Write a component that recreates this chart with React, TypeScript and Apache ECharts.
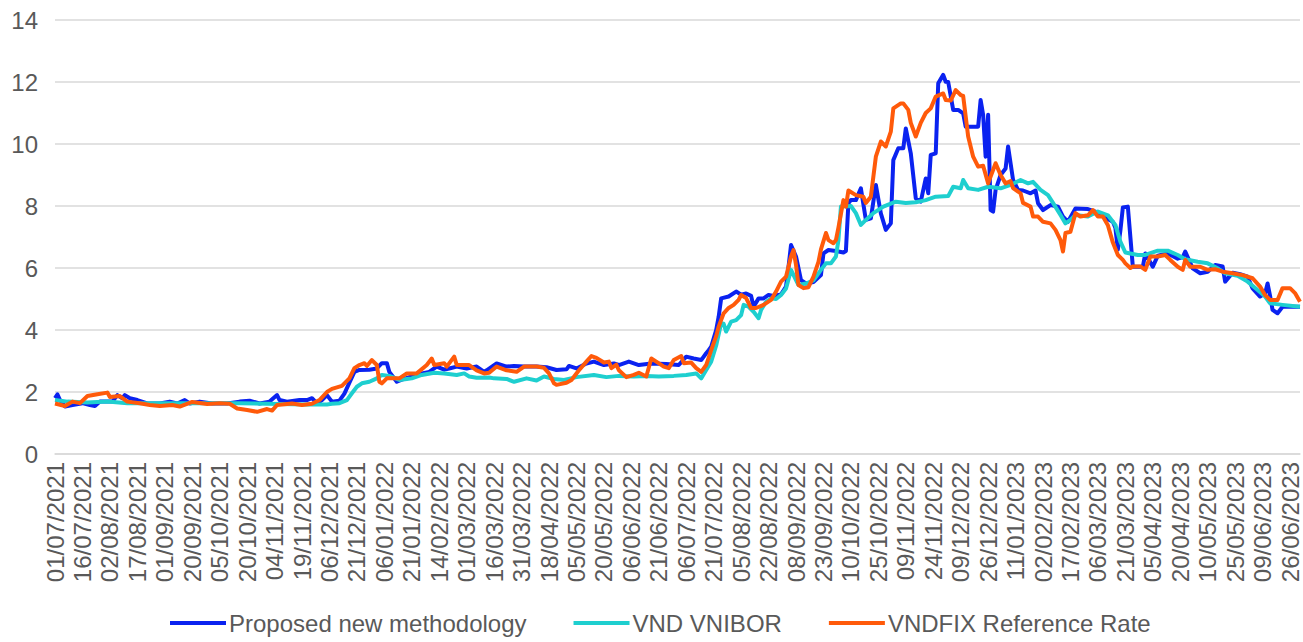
import React, { useEffect, useRef } from "react";
import * as echarts from "echarts";

// Category tick labels (every 11th business day)
const dateLabels = [
  "01/07/2021", "16/07/2021", "02/08/2021", "17/08/2021", "01/09/2021", "20/09/2021",
  "05/10/2021", "20/10/2021", "04/11/2021", "19/11/2021", "06/12/2021", "21/12/2021",
  "06/01/2022", "21/01/2022", "14/02/2022", "01/03/2022", "16/03/2022", "31/03/2022",
  "18/04/2022", "05/05/2022", "20/05/2022", "06/06/2022", "21/06/2022", "06/07/2022",
  "21/07/2022", "05/08/2022", "22/08/2022", "08/09/2022", "23/09/2022", "10/10/2022",
  "25/10/2022", "09/11/2022", "24/11/2022", "09/12/2022", "26/12/2022", "11/01/2023",
  "02/02/2023", "17/02/2023", "06/03/2023", "21/03/2023", "05/04/2023", "20/04/2023",
  "10/05/2023", "25/05/2023", "09/06/2023", "26/06/2023",
];
const labelStep = 11;
const lastDay = 499;

const seriesNames = ["Proposed new methodology", "VND VNIBOR", "VNDFIX Reference Rate"];
const seriesColors = ["#0A22F0", "#1ECFCF", "#FF5A0A"];

// [business-day index, rate %]
const proposedData = [
  [0, 1.8], [1, 1.92], [2, 1.74], [4, 1.53], [7, 1.58], [11, 1.64], [14, 1.58], [16, 1.55],
  [18, 1.69], [23, 1.69], [25, 1.9], [27, 1.8], [28, 1.9], [30, 1.8], [33, 1.74], [37, 1.63],
  [42, 1.63], [46, 1.69], [49, 1.63], [52, 1.74], [54, 1.63], [58, 1.69], [63, 1.63], [69, 1.63],
  [74, 1.69], [78, 1.72], [82, 1.63], [86, 1.69], [89, 1.9], [90, 1.74], [93, 1.69], [98, 1.74],
  [101, 1.74], [103, 1.8], [105, 1.63], [107, 1.74], [109, 1.9], [111, 1.69], [114, 1.72],
  [116, 1.95], [118, 2.3], [120, 2.65], [122, 2.71], [126, 2.72], [129, 2.76], [131, 2.93],
  [133, 2.93], [134, 2.65], [137, 2.33], [139, 2.4], [143, 2.5], [147, 2.6], [150, 2.65],
  [153, 2.82], [156, 2.72], [158, 2.76], [161, 2.82], [165, 2.76], [169, 2.82], [172, 2.65],
  [173, 2.7], [177, 2.92], [181, 2.82], [184, 2.84], [188, 2.82], [193, 2.82], [197, 2.8],
  [201, 2.71], [205, 2.73], [206, 2.84], [209, 2.76], [213, 2.92], [216, 2.98], [220, 2.87],
  [224, 2.92], [226, 2.87], [230, 2.98], [234, 2.87], [239, 2.92], [245, 2.9], [250, 2.87],
  [253, 3.14], [256, 3.08], [259, 3.03], [261, 3.25], [262, 3.35], [263, 3.46], [265, 4.0],
  [266, 4.43], [267, 5.02], [270, 5.08], [273, 5.24], [275, 5.14], [277, 5.18], [279, 5.1],
  [280, 4.75], [282, 5.02], [284, 5.02], [286, 5.13], [288, 5.1], [291, 5.15], [293, 5.4],
  [294, 6.04], [295, 6.74], [297, 6.37], [299, 5.61], [301, 5.5], [304, 5.55], [307, 5.77],
  [308, 6.47], [310, 6.58], [313, 6.55], [316, 6.5], [317, 6.55], [318, 8.09], [319, 8.19],
  [321, 8.19], [323, 8.57], [325, 7.55], [327, 7.6], [329, 8.68], [331, 7.76], [333, 7.23],
  [335, 7.44], [336, 9.48], [338, 9.86], [340, 9.86], [341, 10.5], [343, 9.7], [345, 8.25],
  [347, 8.14], [349, 8.89], [350, 8.41], [351, 9.65], [353, 9.7], [354, 11.96], [356, 12.23],
  [357, 12.01], [358, 12.0], [360, 11.1], [362, 11.1], [364, 10.99], [365, 10.56], [367, 10.56],
  [370, 10.56], [371, 11.42], [372, 10.94], [373, 9.59], [374, 10.94], [375, 7.87], [376, 7.82],
  [377, 8.52], [379, 9.0], [381, 9.21], [382, 9.92], [384, 8.84], [386, 8.52], [388, 8.5],
  [391, 8.41], [393, 8.5], [394, 8.09], [396, 7.87], [399, 8.03], [402, 7.98], [404, 7.66],
  [406, 7.49], [409, 7.92], [414, 7.9], [417, 7.82], [419, 7.7], [424, 7.49], [425, 7.3],
  [426, 6.6], [427, 7.2], [428, 7.95], [430, 7.98], [432, 6.04], [436, 6.04], [437, 6.47],
  [440, 6.04], [442, 6.4], [446, 6.47], [450, 6.3], [452, 6.35], [453, 6.53], [456, 5.99],
  [459, 5.83], [462, 5.88], [465, 6.1], [468, 6.05], [469, 5.56], [472, 5.85], [475, 5.8],
  [478, 5.72], [480, 5.34], [483, 5.08], [485, 5.18], [486, 5.5], [487, 5.1], [488, 4.65],
  [490, 4.54], [492, 4.75], [496, 4.75], [499, 4.75],
];

const vniborData = [
  [0, 1.74], [5, 1.69], [13, 1.66], [21, 1.69], [29, 1.64], [47, 1.64], [74, 1.64], [101, 1.6],
  [109, 1.6], [111, 1.62], [114, 1.64], [117, 1.74], [119, 1.96], [121, 2.17], [123, 2.28],
  [126, 2.33], [129, 2.44], [131, 2.55], [134, 2.52], [138, 2.39], [141, 2.42], [143, 2.44],
  [147, 2.55], [152, 2.62], [156, 2.6], [161, 2.55], [164, 2.6], [166, 2.5], [169, 2.46],
  [174, 2.47], [176, 2.44], [181, 2.42], [184, 2.33], [189, 2.44], [193, 2.37], [196, 2.5],
  [200, 2.42], [204, 2.39], [209, 2.48], [216, 2.55], [221, 2.48], [226, 2.52], [232, 2.5],
  [237, 2.52], [242, 2.5], [248, 2.52], [253, 2.55], [257, 2.6], [259, 2.44], [261, 2.71],
  [263, 2.98], [265, 3.5], [267, 4.22], [268, 4.2], [269, 3.95], [271, 4.27], [273, 4.32],
  [275, 4.48], [276, 4.81], [278, 4.75], [280, 4.59], [282, 4.38], [283, 4.65], [285, 4.91],
  [287, 5.02], [289, 5.0], [291, 5.13], [293, 5.34], [295, 5.94], [297, 5.61], [298, 5.45],
  [301, 5.5], [304, 5.6], [307, 5.94], [309, 6.15], [311, 6.15], [313, 6.37], [314, 6.9],
  [315, 7.98], [319, 8.0], [321, 7.77], [323, 7.39], [325, 7.55], [328, 7.77], [332, 7.98],
  [337, 8.14], [341, 8.1], [345, 8.12], [349, 8.19], [353, 8.3], [358, 8.32], [360, 8.62],
  [363, 8.57], [364, 8.84], [366, 8.57], [370, 8.52], [374, 8.62], [379, 8.57], [383, 8.68],
  [387, 8.84], [390, 8.73], [392, 8.78], [395, 8.52], [398, 8.35], [400, 8.1], [403, 7.71],
  [405, 7.44], [407, 7.55], [409, 7.71], [414, 7.66], [418, 7.82], [422, 7.7], [424, 7.49],
  [425, 7.39], [427, 6.85], [429, 6.5], [434, 6.42], [437, 6.42], [442, 6.56], [446, 6.56],
  [450, 6.42], [453, 6.28], [458, 6.2], [462, 6.15], [466, 5.99], [469, 5.83], [474, 5.75],
  [478, 5.56], [482, 5.29], [485, 5.08], [487, 4.86], [492, 4.81], [499, 4.75],
];

const vndfixData = [
  [0, 1.63], [4, 1.55], [7, 1.69], [10, 1.64], [13, 1.87], [17, 1.93], [21, 1.98], [22, 1.84],
  [26, 1.87], [29, 1.69], [34, 1.64], [38, 1.58], [42, 1.55], [47, 1.58], [50, 1.53], [55, 1.68],
  [61, 1.61], [66, 1.64], [70, 1.62], [73, 1.47], [77, 1.42], [81, 1.36], [85, 1.45], [87, 1.4],
  [89, 1.58], [95, 1.63], [99, 1.58], [103, 1.62], [106, 1.74], [109, 2.0], [111, 2.1],
  [115, 2.2], [118, 2.44], [120, 2.77], [122, 2.87], [124, 2.93], [125, 2.84], [127, 3.03],
  [129, 2.87], [130, 2.33], [131, 2.28], [133, 2.44], [138, 2.44], [141, 2.6], [145, 2.6],
  [149, 2.87], [151, 3.08], [152, 2.87], [156, 2.93], [157, 2.82], [160, 3.14], [161, 2.87],
  [166, 2.87], [169, 2.7], [172, 2.6], [174, 2.62], [177, 2.82], [181, 2.7], [185, 2.65],
  [188, 2.82], [193, 2.82], [196, 2.78], [198, 2.6], [200, 2.28], [201, 2.23], [205, 2.3],
  [207, 2.39], [210, 2.7], [213, 2.98], [215, 3.16], [217, 3.1], [220, 2.95], [222, 2.98],
  [223, 2.77], [225, 2.88], [226, 2.7], [229, 2.48], [232, 2.55], [234, 2.62], [237, 2.5],
  [239, 3.08], [241, 2.98], [244, 2.82], [246, 2.77], [248, 3.03], [251, 3.16], [252, 2.93],
  [255, 2.95], [257, 2.77], [259, 2.65], [261, 2.87], [263, 3.35], [265, 3.8], [266, 4.11],
  [268, 4.54], [270, 4.71], [272, 4.81], [274, 4.97], [275, 5.13], [277, 5.03], [279, 4.71],
  [281, 4.71], [284, 4.81], [287, 4.97], [289, 5.24], [291, 5.56], [293, 5.72], [295, 6.37],
  [296, 6.58], [297, 6.1], [298, 5.45], [300, 5.35], [302, 5.38], [304, 5.72], [306, 6.2],
  [307, 6.6], [309, 7.13], [310, 6.9], [312, 6.8], [313, 6.9], [314, 7.3], [316, 8.19],
  [317, 7.98], [318, 8.5], [321, 8.35], [324, 8.3], [325, 8.1], [327, 8.3], [329, 9.59],
  [331, 10.08], [333, 9.92], [335, 10.4], [336, 11.15], [339, 11.31], [340, 11.31], [342, 11.1],
  [343, 10.68], [345, 10.24], [347, 10.68], [349, 11.0], [351, 11.15], [353, 11.53], [356, 11.63],
  [357, 11.42], [359, 11.4], [361, 11.74], [363, 11.58], [364, 11.55], [366, 10.24], [368, 9.59],
  [370, 9.27], [372, 9.3], [374, 8.73], [375, 8.95], [377, 9.38], [379, 9.0], [381, 8.73],
  [383, 8.8], [384, 8.58], [387, 8.41], [388, 8.1], [391, 7.98], [392, 7.66], [394, 7.66],
  [396, 7.49], [399, 7.44], [401, 7.23], [403, 6.9], [404, 6.53], [405, 7.13], [407, 7.17],
  [409, 7.77], [411, 7.66], [414, 7.7], [416, 7.87], [418, 7.66], [420, 7.66], [422, 7.38],
  [424, 6.82], [426, 6.42], [428, 6.26], [429, 6.15], [431, 6.0], [432, 6.05], [435, 6.05],
  [437, 5.94], [439, 6.37], [442, 6.37], [445, 6.42], [447, 6.26], [450, 6.04], [452, 5.94],
  [453, 6.26], [455, 6.04], [459, 6.04], [462, 5.94], [465, 5.96], [468, 5.88], [472, 5.83],
  [476, 5.77], [480, 5.67], [483, 5.4], [485, 5.13], [487, 4.97], [490, 4.97], [492, 5.35],
  [495, 5.35], [497, 5.19], [499, 4.91],
];

const yTicks = { min: 0, max: 14, interval: 2 };

export default function App() {
  const ref = useRef<HTMLDivElement>(null);
  useEffect(() => {
    if (!ref.current) return;
    const chart = echarts.init(ref.current, null, { renderer: "svg" });
    const font = "Liberation Sans, Arial, sans-serif";
    const datasets = [proposedData, vniborData, vndfixData];
    chart.setOption({
      animation: false,
      backgroundColor: "#ffffff",
      grid: { left: 55, right: 3, top: 20, bottom: 188, containLabel: false },
      legend: {
        bottom: 2,
        left: 165,
        icon: "rect",
        itemWidth: 56,
        itemHeight: 4,
        itemGap: 47,
        data: seriesNames,
        textStyle: { fontSize: 24, color: "#595959", fontFamily: font, padding: [0, 0, 0, -2] },
      },
      xAxis: {
        type: "value",
        min: 0,
        max: lastDay,
        interval: labelStep,
        axisLine: { show: true, lineStyle: { color: "#d9d9d9", width: 1.5 } },
        axisTick: { show: false },
        splitLine: { show: false },
        axisLabel: {
          rotate: 90,
          margin: 8,
          fontSize: 24,
          color: "#595959",
          fontFamily: font,
          showMaxLabel: false,
          formatter: (v: number) =>
            v % labelStep === 0 && dateLabels[v / labelStep] ? dateLabels[v / labelStep] : "",
        },
      },
      yAxis: {
        type: "value",
        min: yTicks.min,
        max: yTicks.max,
        interval: yTicks.interval,
        axisLine: { show: false },
        axisTick: { show: false },
        splitLine: { lineStyle: { color: "#d9d9d9", width: 1.5 } },
        axisLabel: { fontSize: 24, color: "#595959", fontFamily: font, margin: 17 },
      },
      series: seriesNames.map((name, i) => ({
        name,
        type: "line",
        data: datasets[i],
        showSymbol: false,
        symbol: "none",
        color: seriesColors[i],
        lineStyle: { width: 4, color: seriesColors[i], join: "round" },
        z: 2 + i,
      })),
    });
    return () => chart.dispose();
  }, []);
  return (
    <div
      ref={ref}
      style={{ position: "fixed", left: 0, top: 0, width: 1303, height: 642, background: "#fff" }}
    />
  );
}
